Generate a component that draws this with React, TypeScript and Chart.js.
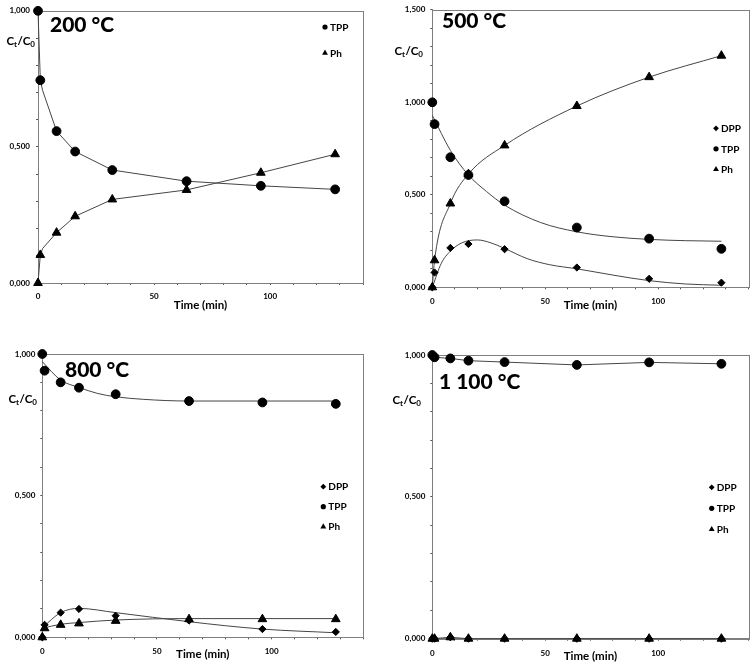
import React, { useEffect, useRef } from 'react';
import { Chart, registerables } from 'chart.js';

Chart.register(...registerables);

const FONT = 'Lato, "Open Sans", "DejaVu Sans", sans-serif';

// ---------- data ----------
// sampling times (min)
const TIMES = [0, 1, 8, 16, 32, 64, 96, 128];

// 200 °C – measured
const TPP_200 = [1.0, 0.745, 0.558, 0.483, 0.415, 0.374, 0.357, 0.344];
const PH_200 = [0.0, 0.103, 0.185, 0.245, 0.307, 0.342, 0.405, 0.473];
// 200 °C – fitted curves
const FIT_T_200 = [0, 1, 2, 8, 16, 32, 64, 96, 128];
const FIT_TPP_200 = [1.0, 0.745, 0.707, 0.558, 0.483, 0.415, 0.374, 0.357, 0.344];
const FIT_PH_200 = [0.0, 0.103, 0.127, 0.185, 0.245, 0.307, 0.342, 0.405, 0.473];

// 500 °C – measured
const DPP_500 = [0.0, 0.08, 0.213, 0.234, 0.206, 0.107, 0.046, 0.025];
const TPP_500 = [1.0, 0.882, 0.703, 0.607, 0.465, 0.323, 0.263, 0.208];
const PH_500 = [0.0, 0.146, 0.453, 0.612, 0.767, 0.98, 1.136, 1.252];
// 500 °C – fitted curves
const FIT_T_500_TPP = [0, 8, 16, 24, 32, 48, 64, 80, 96, 112, 128];
const FIT_TPP_500 = [0.93, 0.74, 0.607, 0.518, 0.444, 0.35, 0.3, 0.273, 0.259, 0.252, 0.249];
const FIT_T_500_PH = [0, 1, 8, 16, 32, 64, 96, 128];
const FIT_PH_500 = [0.0, 0.146, 0.453, 0.612, 0.767, 0.98, 1.136, 1.252];
const FIT_T_500_DPP = [0, 4, 8, 13, 20, 26, 32, 42, 52, 64, 80, 96, 112, 128];
const FIT_DPP_500 = [0.0, 0.13, 0.195, 0.24, 0.256, 0.24, 0.21, 0.155, 0.122, 0.1, 0.066, 0.036, 0.018, 0.011];

// 800 °C – measured
const DPP_800 = [0.0, 0.044, 0.087, 0.1, 0.076, 0.059, 0.029, 0.019];
const TPP_800 = [1.0, 0.941, 0.9, 0.881, 0.858, 0.834, 0.829, 0.824];
const PH_800 = [0.0, 0.032, 0.044, 0.049, 0.058, 0.064, 0.064, 0.064];
// 800 °C – fitted curves
const FIT_T_800_TPP = [0, 8, 16, 24, 32, 44, 64, 96, 128];
const FIT_TPP_800 = [0.973, 0.908, 0.882, 0.861, 0.849, 0.84, 0.834, 0.834, 0.834];
const FIT_T_800 = [0, 8, 16, 32, 64, 96, 128];
const FIT_DPP_800 = [0.034, 0.087, 0.102, 0.087, 0.055, 0.029, 0.016];
const FIT_PH_800 = [0.032, 0.046, 0.052, 0.061, 0.066, 0.066, 0.066];

// 1 100 °C – measured
const DPP_1100 = [0.0, 0.0, 0.005, 0.0, 0.0, 0.0, 0.0, 0.0];
const TPP_1100 = [1.0, 0.992, 0.988, 0.98, 0.975, 0.965, 0.974, 0.969];
const PH_1100 = [0.0, 0.0, 0.005, 0.0, 0.0, 0.0, 0.0, 0.0];
// 1 100 °C – fitted curves
const FIT_T_1100 = [1, 8, 16, 32, 64, 96, 128];
const FIT_TPP_1100 = [0.992, 0.988, 0.98, 0.975, 0.965, 0.974, 0.969];
const FIT_T_1100_LOW = [0, 8, 16, 32, 64, 96, 128];
const FIT_LOW_1100 = [0.0, 0.005, 0.0, 0.0, 0.0, 0.0, 0.0];

// axis
const X_MAX = 140;
const X_STEP = 10;
const X_LABEL_EVERY = 50;
const Y_STEP = 0.1;
const X_TITLE = 'Time (min)';

// ---------- helpers ----------
const pts = (xs: number[], ys: number[]) => xs.map((x, i) => ({ x, y: ys[i] }));

const STYLE = {
  DPP: { pointStyle: 'rectRot', r: 3.6, lr: 2.9 },
  TPP: { pointStyle: 'circle', r: 4.4, lr: 2.6 },
  Ph: { pointStyle: 'triangle', r: 5, lr: 3.4 },
} as const;

type Key = keyof typeof STYLE;

function scatterDs(key: Key, ys: number[]) {
  return {
    label: key,
    data: pts(TIMES, ys),
    showLine: false,
    pointStyle: STYLE[key].pointStyle,
    pointRadius: STYLE[key].r,
    pointHoverRadius: STYLE[key].r,
    pointBackgroundColor: '#000',
    pointBorderColor: '#000',
    pointBorderWidth: 1,
    borderColor: '#000',
    backgroundColor: '#000',
    order: 0,
    clip: false,
  };
}

function fitDs(xs: number[], ys: number[], smooth: boolean) {
  return {
    label: 'fit',
    data: pts(xs, ys),
    showLine: true,
    pointRadius: 0,
    pointHoverRadius: 0,
    borderColor: '#454545',
    borderWidth: 1,
    fill: false,
    tension: smooth ? 0.4 : 0,
    cubicInterpolationMode: smooth ? 'monotone' : 'default',
    order: 1,
    clip: false,
  };
}

function drawMarker(ctx: CanvasRenderingContext2D, style: string, x: number, y: number, r: number) {
  ctx.beginPath();
  if (style === 'circle') {
    ctx.arc(x, y, r, 0, Math.PI * 2);
  } else if (style === 'triangle') {
    ctx.moveTo(x, y - r);
    ctx.lineTo(x + r * 0.866, y + r * 0.5);
    ctx.lineTo(x - r * 0.866, y + r * 0.5);
    ctx.closePath();
  } else {
    ctx.moveTo(x, y - r);
    ctx.lineTo(x + r, y);
    ctx.lineTo(x, y + r);
    ctx.lineTo(x - r, y);
    ctx.closePath();
  }
  ctx.fill();
}

const decorPlugin = {
  id: 'panelDecor',
  beforeDatasetsDraw(chart: any) {
    const { ctx, chartArea: a } = chart;
    ctx.save();
    ctx.strokeStyle = '#7f7f7f';
    ctx.lineWidth = 1;
    const l = Math.round(a.left) + 0.5;
    const t = Math.round(a.top) + 0.5;
    ctx.strokeRect(l, t, Math.round(a.right) - Math.round(a.left), Math.round(a.bottom) - Math.round(a.top));
    ctx.restore();
  },
  afterDraw(chart: any, _args: any, o: any) {
    const { ctx } = chart;
    ctx.save();
    ctx.fillStyle = '#000';
    ctx.textAlign = 'left';
    ctx.textBaseline = 'middle';
    // temperature
    ctx.font = `900 21px ${FONT}`;
    ctx.fillText(o.title, o.titleX, o.titleY);
    // Ct/C0
    let x = o.labX;
    const seg = (s: string, sub: boolean) => {
      ctx.font = sub ? `bold 8px ${FONT}` : `bold 11.5px ${FONT}`;
      ctx.fillText(s, x, sub ? o.labY + 3 : o.labY);
      x += ctx.measureText(s).width + (sub ? 0.3 : 0);
    };
    seg('C', false);
    seg('t', true);
    seg('/', false);
    seg('C', false);
    seg('0', true);
    // legend
    ctx.font = `bold 10px ${FONT}`;
    (o.legend as Key[]).forEach((k, i) => {
      const y = o.legY + i * o.legGap;
      drawMarker(ctx, STYLE[k].pointStyle, o.legX, y, STYLE[k].lr);
      ctx.fillText(k, o.legX + 5, y + 0.5);
    });
    ctx.restore();
  },
};

type PanelCfg = {
  x: number; y: number; w: number; h: number;
  padT: number; padR: number; yW: number; xH: number;
  yMax: number; xTickPad: number; yTickPad: number; xTitlePad: number;
  datasets: any[];
  decor: any;
};

function buildConfig(c: PanelCfg): any {
  const tickFont = { family: FONT, size: 8, weight: 'bold' };
  return {
    type: 'line',
    data: { datasets: c.datasets },
    plugins: [decorPlugin],
    options: {
      responsive: false,
      animation: false,
      events: [],
      layout: { padding: { left: 0, top: c.padT, right: c.padR, bottom: 0 } },
      plugins: {
        legend: { display: false },
        tooltip: { enabled: false },
        panelDecor: c.decor,
      },
      scales: {
        x: {
          type: 'linear',
          min: 0,
          max: X_MAX,
          afterFit: (s: any) => { s.height = c.xH; },
          ticks: {
            stepSize: X_STEP,
            autoSkip: false,
            maxRotation: 0,
            padding: c.xTickPad,
            color: '#000',
            font: tickFont,
            callback: (v: number) => (v % X_LABEL_EVERY === 0 ? String(v) : ''),
          },
          grid: { display: true, drawOnChartArea: false, drawTicks: true, tickLength: 2, color: '#555' },
          border: { display: true, color: '#7f7f7f', width: 1 },
          title: {
            display: true,
            text: X_TITLE,
            color: '#000',
            font: { family: FONT, size: 11.5, weight: 'bold' },
            padding: { top: 0, bottom: c.xTitlePad },
          },
        },
        y: {
          type: 'linear',
          min: 0,
          max: c.yMax,
          afterFit: (s: any) => { s.width = c.yW; },
          ticks: {
            stepSize: Y_STEP,
            autoSkip: false,
            padding: c.yTickPad,
            color: '#000',
            font: tickFont,
            callback: (v: number) => {
              const k = Math.round(v * 10);
              return k % 5 === 0 ? (k / 10).toFixed(3).replace('.', ',') : '';
            },
          },
          grid: { display: true, drawOnChartArea: false, drawTicks: true, tickLength: 2, color: '#555' },
          border: { display: true, color: '#7f7f7f', width: 1 },
        },
      },
    },
  };
}

const PANELS: PanelCfg[] = [
  {
    x: 0, y: 0, w: 378, h: 330,
    padT: 7, padR: 15, yW: 38, xH: 47, yMax: 1.0,
    xTickPad: 7, yTickPad: 6, xTitlePad: 18,
    datasets: [
      scatterDs('TPP', TPP_200),
      scatterDs('Ph', PH_200),
      fitDs(FIT_T_200, FIT_TPP_200, false),
      fitDs(FIT_T_200, FIT_PH_200, false),
    ],
    decor: { title: '200 °C', titleX: 50, titleY: 25, labX: 6.5, labY: 41, legend: ['TPP', 'Ph'], legX: 325, legY: 27, legGap: 26 },
  },
  {
    x: 378, y: 0, w: 378, h: 330,
    padT: 5.7, padR: 3.3, yW: 54.3, xH: 42.7, yMax: 1.5,
    xTickPad: 7.5, yTickPad: 5, xTitlePad: 17.5,
    datasets: [
      scatterDs('DPP', DPP_500),
      scatterDs('TPP', TPP_500),
      scatterDs('Ph', PH_500),
      fitDs(FIT_T_500_TPP, FIT_TPP_500, true),
      fitDs(FIT_T_500_PH, FIT_PH_500, true),
      fitDs(FIT_T_500_DPP, FIT_DPP_500, true),
    ],
    decor: { title: '500 °C', titleX: 64, titleY: 21, labX: 16.5, labY: 51.5, legend: ['DPP', 'TPP', 'Ph'], legX: 338, legY: 128.3, legGap: 20.5 },
  },
  {
    x: 0, y: 330, w: 378, h: 334,
    padT: 24, padR: 14.7, yW: 42.3, xH: 26.7, yMax: 1.0,
    xTickPad: 7.5, yTickPad: 5, xTitlePad: 3,
    datasets: [
      scatterDs('DPP', DPP_800),
      scatterDs('TPP', TPP_800),
      scatterDs('Ph', PH_800),
      fitDs(FIT_T_800_TPP, FIT_TPP_800, true),
      fitDs(FIT_T_800, FIT_DPP_800, true),
      fitDs(FIT_T_800, FIT_PH_800, true),
    ],
    decor: { title: '800 °C', titleX: 65, titleY: 40, labX: 8.5, labY: 69, legend: ['DPP', 'TPP', 'Ph'], legX: 323.3, legY: 156.7, legGap: 20 },
  },
  {
    x: 378, y: 330, w: 378, h: 334,
    padT: 25, padR: 3.3, yW: 54.3, xH: 25.3, yMax: 1.0,
    xTickPad: 7.5, yTickPad: 5, xTitlePad: 1,
    datasets: [
      scatterDs('DPP', DPP_1100),
      scatterDs('TPP', TPP_1100),
      scatterDs('Ph', PH_1100),
      fitDs(FIT_T_1100, FIT_TPP_1100, false),
      fitDs(FIT_T_1100_LOW, FIT_LOW_1100, false),
    ],
    decor: { title: '1 100 °C', titleX: 61, titleY: 52, labX: 14.5, labY: 70, legend: ['DPP', 'TPP', 'Ph'], legX: 333.7, legY: 157.3, legGap: 21 },
  },
];

function Panel({ cfg }: { cfg: PanelCfg }) {
  const ref = useRef<HTMLCanvasElement>(null);
  useEffect(() => {
    if (!ref.current) return;
    const chart = new Chart(ref.current, buildConfig(cfg));
    return () => chart.destroy();
  }, [cfg]);
  return (
    <canvas
      ref={ref}
      width={cfg.w}
      height={cfg.h}
      style={{ position: 'absolute', left: cfg.x, top: cfg.y, width: cfg.w, height: cfg.h }}
    />
  );
}

export default function App() {
  return (
    <div style={{ position: 'absolute', left: 0, top: 0, width: 756, height: 664, background: '#fff', overflow: 'hidden' }}>
      {PANELS.map((p, i) => (
        <Panel key={i} cfg={p} />
      ))}
    </div>
  );
}
